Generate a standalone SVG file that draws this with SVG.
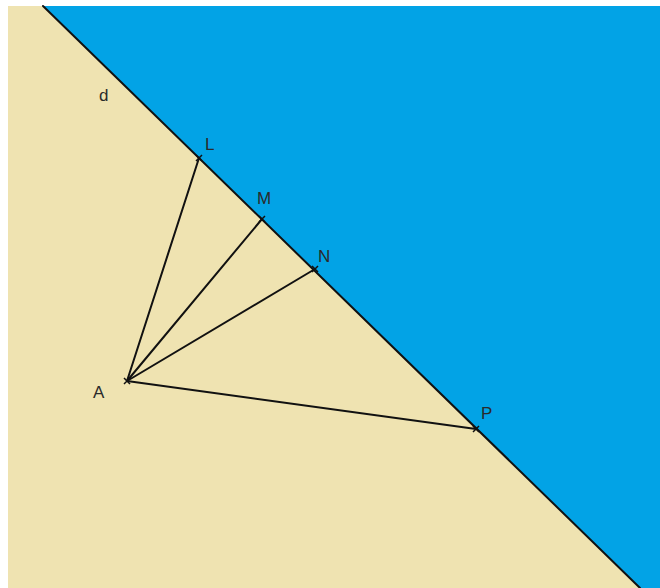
<svg xmlns="http://www.w3.org/2000/svg" width="660" height="588" viewBox="0 0 660 588">
<style>
.lbl{font-family:"Liberation Sans",Arial,sans-serif;font-size:17px;fill:#2a2a2a}
.seg{stroke:#111;stroke-width:2;fill:none;stroke-linecap:round}
.pt{stroke:#111;stroke-width:1.5;fill:none}
</style>
<rect x="0" y="0" width="660" height="588" fill="#ffffff"/>
<g id="regions">
<polygon points="8,6 43,6 640,588 8,588" fill="#EFE3B1"/>
<polygon points="43,6 660,6 660,588 640,588" fill="#02A3E6"/>
</g>
<g id="connectors">
<line id="d-line" class="seg" x1="43" y1="6" x2="640" y2="588"/>
<line class="seg" x1="127" y1="381" x2="199" y2="158"/>
<line class="seg" x1="127" y1="381" x2="262" y2="219"/>
<line class="seg" x1="127" y1="381" x2="315" y2="269"/>
<line class="seg" x1="127" y1="381" x2="476" y2="429"/>
</g>
<g id="label-d"><text class="lbl" x="99" y="101">d</text></g>
<g id="node-L"><path class="pt" d="M196,155 l6,6 M202,155 l-6,6"/><text class="lbl" x="205" y="150">L</text></g>
<g id="node-M"><path class="pt" d="M259,216 l6,6 M265,216 l-6,6"/><text class="lbl" x="257" y="204">M</text></g>
<g id="node-N"><path class="pt" d="M312,266 l6,6 M318,266 l-6,6"/><text class="lbl" x="318" y="262">N</text></g>
<g id="node-P"><path class="pt" d="M473,426 l6,6 M479,426 l-6,6"/><text class="lbl" x="481" y="419">P</text></g>
<g id="node-A"><path class="pt" d="M124,378 l6,6 M130,378 l-6,6"/><text class="lbl" x="93" y="398">A</text></g>
</svg>
